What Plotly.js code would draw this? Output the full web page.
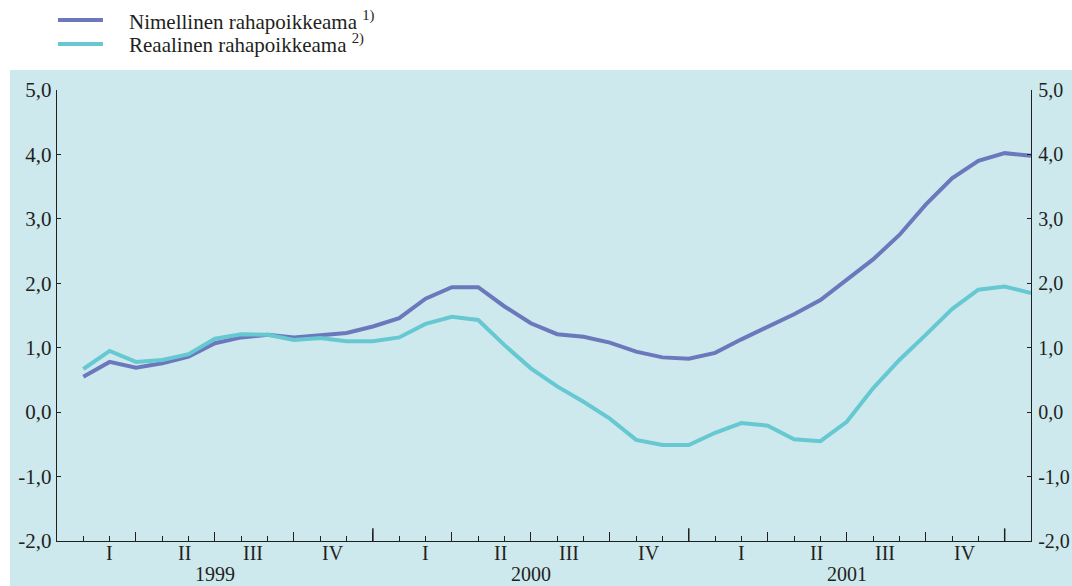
<!DOCTYPE html>
<html>
<head>
<meta charset="utf-8">
<script src="https://cdn.plot.ly/plotly-3.0.1.min.js"></script>
<style>html,body{margin:0;padding:0;background:#fff;}#chart{width:1072px;height:586px;}</style>
</head>
<body>
<div id="chart"></div>
<script>
// Months (Jan 1999 .. Jan 2002)
const months = [
  '1999-01','1999-02','1999-03','1999-04','1999-05','1999-06','1999-07','1999-08','1999-09','1999-10','1999-11','1999-12',
  '2000-01','2000-02','2000-03','2000-04','2000-05','2000-06','2000-07','2000-08','2000-09','2000-10','2000-11','2000-12',
  '2001-01','2001-02','2001-03','2001-04','2001-05','2001-06','2001-07','2001-08','2001-09','2001-10','2001-11','2001-12',
  '2002-01'
];
const nominal = [0.55,0.78,0.69,0.76,0.86,1.07,1.16,1.20,1.16,1.20,1.23,1.33,
  1.46,1.76,1.94,1.94,1.64,1.38,1.21,1.17,1.08,0.94,0.85,0.83,
  0.92,1.13,1.33,1.52,1.74,2.05,2.37,2.75,3.22,3.63,3.90,4.02,3.98];
const real = [0.67,0.95,0.78,0.81,0.90,1.14,1.21,1.20,1.12,1.15,1.10,1.10,
  1.16,1.37,1.48,1.43,1.04,0.68,0.40,0.16,-0.10,-0.43,-0.51,-0.51,
  -0.32,-0.17,-0.21,-0.42,-0.45,-0.15,0.37,0.81,1.20,1.60,1.90,1.95,1.85];
const years = ['1999','2000','2001'];
const quarterLabels = ['I','II','III','IV'];
const yTickVals = [-2,-1,0,1,2,3,4,5];
const yTickLabels = ['-2,0','-1,0','0,0','1,0','2,0','3,0','4,0','5,0'];
const seriesNames = ['Nimellinen rahapoikkeama <sup>1)</sup>','Reaalinen rahapoikkeama <sup>2)</sup>'];
const seriesColors = ['#6c78bc', '#66c8d1'];

const startYear = 1999;
const xIdx = months.map(m => { const [y, mo] = m.split('-').map(Number); return (y - startYear) * 12 + mo; });
const xMax = xIdx[xIdx.length - 1];

const FONT = 'Liberation Serif, Times New Roman, serif';
const TXT = '#231f20';
const BG = '#cde9ee';

const traces = [
  {x: xIdx, y: nominal, name: seriesNames[0], type: 'scatter', mode: 'lines',
   line: {color: seriesColors[0], width: 4}, hoverinfo: 'skip'},
  {x: xIdx, y: real, name: seriesNames[1], type: 'scatter', mode: 'lines', yaxis: 'y2',
   line: {color: seriesColors[1], width: 4}, hoverinfo: 'skip'}
];

const qOffsets = [2, 4.85, 7.45, 10.5];
const annotations = [];
years.forEach((yr, yi) => {
  quarterLabels.forEach((q, qi) => {
    annotations.push({x: yi * 12 + qOffsets[qi], y: -0.027, xref: 'x', yref: 'paper', text: q,
      showarrow: false, xanchor: 'center', yanchor: 'middle', font: {family: FONT, size: 20, color: TXT}});
  });
  annotations.push({x: yi * 12 + 6, y: -0.074, xref: 'x', yref: 'paper', text: yr,
    showarrow: false, xanchor: 'center', yanchor: 'middle', font: {family: FONT, size: 20, color: TXT}});
});

const shapes = [
  {type: 'rect', xref: 'paper', yref: 'paper', x0: -0.0483, x1: 1.05, y0: -0.12, y1: 1.0443,
   fillcolor: BG, line: {width: 0}, layer: 'below'}
];
years.forEach((yr, yi) => {
  shapes.push({type: 'line', xref: 'x', yref: 'paper', x0: (yi + 1) * 12, x1: (yi + 1) * 12, y0: 0, y1: 0.028,
    line: {color: TXT, width: 1.5}});
});

// legend (drawn as shapes + text)
const legendRowsY = [1.1552, 1.102];
seriesNames.forEach((nm, i) => {
  shapes.push({type: 'line', xref: 'paper', yref: 'paper', x0: 0.001, x1: 0.0472,
    y0: legendRowsY[i], y1: legendRowsY[i], line: {color: seriesColors[i], width: 4}});
  annotations.push({x: 0.0719, y: legendRowsY[i], xref: 'paper', yref: 'paper', text: nm,
    showarrow: false, xanchor: 'left', yanchor: 'middle', font: {family: FONT, size: 21, color: TXT}});
});

const quarterTicks = [];
for (let v = 0; v <= xMax; v += 3) quarterTicks.push(v);

const yCommon = {range: [-2, 5], tickmode: 'array', tickvals: yTickVals, ticktext: yTickLabels,
  ticks: 'inside', ticklen: 4, tickcolor: TXT, showgrid: false, zeroline: false,
  showline: true, linecolor: TXT, linewidth: 1.2, fixedrange: true,
  tickfont: {family: FONT, size: 21, color: TXT}};

const layout = {
  width: 1072, height: 586,
  margin: {l: 57, r: 41, t: 90, b: 45},
  paper_bgcolor: '#ffffff',
  plot_bgcolor: 'rgba(0,0,0,0)',
  showlegend: false,
  xaxis: {range: [0, xMax], tickmode: 'array', tickvals: quarterTicks, ticks: 'inside', ticklen: 9,
    tickcolor: TXT, showticklabels: false, showgrid: false, zeroline: false,
    showline: true, linecolor: TXT, linewidth: 1.2, fixedrange: true,
    minor: {tick0: 0, dtick: 1, ticks: 'inside', ticklen: 5, tickcolor: TXT, showgrid: false}},
  yaxis: Object.assign({}, yCommon, {side: 'left'}),
  yaxis2: Object.assign({}, yCommon, {side: 'right', overlaying: 'y', ticklabelstandoff: 2,
    tickfont: {family: FONT, size: 20, color: TXT}}),
  annotations: annotations,
  shapes: shapes
};

Plotly.newPlot('chart', traces, layout, {displayModeBar: false, staticPlot: true});
</script>
</body>
</html>
